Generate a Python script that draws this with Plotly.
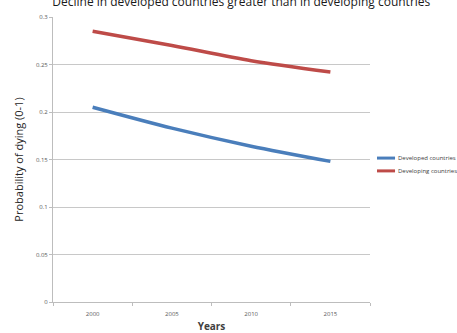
import plotly.graph_objects as go

years = ["2000", "2005", "2010", "2015"]
developed = [0.205, 0.183, 0.164, 0.148]
developing = [0.285, 0.270, 0.254, 0.242]
y_ticks = [0, 0.05, 0.1, 0.15, 0.2, 0.25, 0.3]
y_tick_text = ["0", "0.05", "0.1", "0.15", "0.2", "0.25", "0.3"]

series = [
    ("Developed countries", developed, "#4a7ebb"),
    ("Developing countries", developing, "#be4b48"),
]

fig = go.Figure()
for name, values, color in series:
    fig.add_trace(go.Scatter(
        x=years, y=values, mode="lines", name=name,
        line=dict(color=color, width=3.5, shape="spline", smoothing=0.8),
    ))

# compact legend to the right of the plot: short line swatch + small label
for i, (name, values, color) in enumerate(series):
    ly = 0.505 - i * 0.045
    fig.add_shape(type="line", xref="paper", yref="paper",
                  x0=1.022, x1=1.079, y0=ly, y1=ly,
                  line=dict(color=color, width=3))
    fig.add_annotation(text=name, xref="paper", yref="paper",
                       x=1.083, y=ly, xanchor="left", yanchor="middle",
                       showarrow=False, font=dict(size=6, color="#404040"))

fig.update_layout(
    width=457, height=333,
    margin=dict(l=53, r=87, t=17, b=31),
    paper_bgcolor="white", plot_bgcolor="white",
    font=dict(family="Open Sans, Liberation Sans, sans-serif", color="#404040"),
    title=dict(
        text="Decline in developed countries greater than in developing countries",
        x=0.528, xanchor="center", xref="container",
        y=0.995, yanchor="middle", yref="container",
        font=dict(size=12, color="#1a1a1a"),
    ),
    showlegend=False,
    xaxis=dict(
        type="category", range=[-0.5, 3.5], showgrid=False, showline=True,
        linecolor="#bdbdbd", linewidth=1, ticks="outside", tickson="boundaries",
        ticklen=3, tickcolor="#bdbdbd", tickfont=dict(size=6, color="#595959"),
        ticklabelstandoff=6, automargin=False,
        title=dict(text="<b>Years</b>", font=dict(size=10, color="#404040"), standoff=8),
    ),
    yaxis=dict(
        range=[0, 0.3], tickvals=y_ticks, ticktext=y_tick_text,
        showgrid=True, gridcolor="#c8c8c8", gridwidth=1,
        showline=True, linecolor="#bdbdbd", linewidth=1,
        ticks="outside", ticklen=3, tickcolor="#bdbdbd",
        tickfont=dict(size=6, color="#595959"), zeroline=False, automargin=False,
        title=dict(text="Probability of dying (0-1)", font=dict(size=11, color="#262626"), standoff=10),
    ),
)

fig.write_html("out.html")
